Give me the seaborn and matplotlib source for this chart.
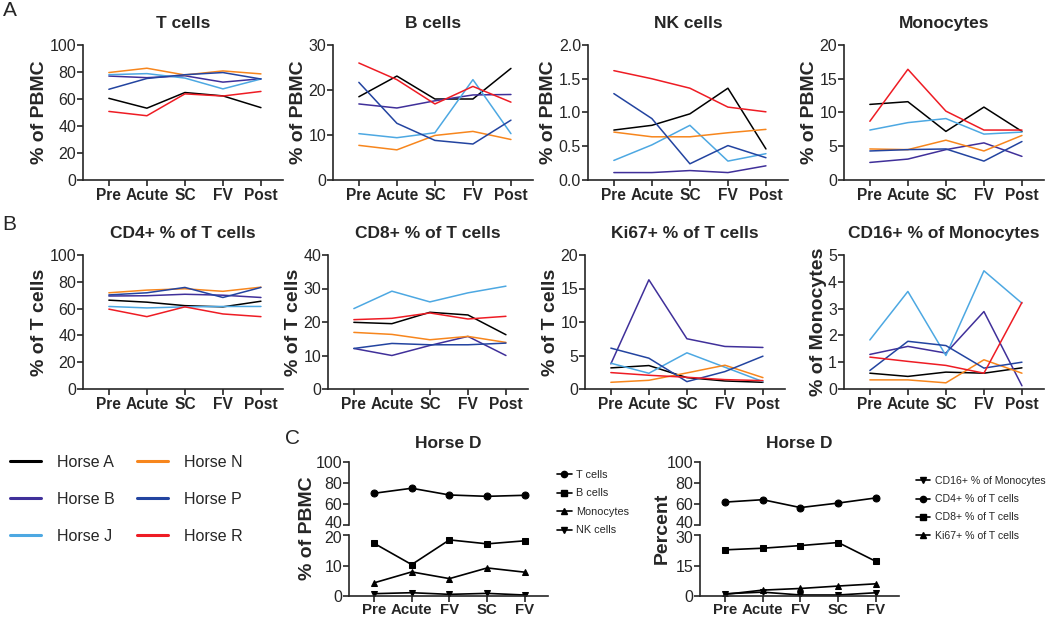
import seaborn as sns
import pandas as pd
import numpy as np
import matplotlib.pyplot as plt
from matplotlib.lines import Line2D
from matplotlib.ticker import FormatStrFormatter
from matplotlib.transforms import ScaledTranslation

W, H = 1050, 619

timepoints = ['Pre', 'Acute', 'SC', 'FV', 'Post']
horses = ['Horse A', 'Horse B', 'Horse J', 'Horse N', 'Horse P', 'Horse R']
horse_colors = ['#000000', '#40309a', '#4da8e2', '#f7861d', '#2344a0', '#ee1c24']

# panel A, % of PBMC
t_cells = {'Horse A': [60.5, 53.2, 64.8, 62.3, 53.6], 'Horse B': [77.0, 75.8, 77.2, 72.5, 75.0],
           'Horse J': [78.0, 78.8, 75.5, 67.5, 74.8], 'Horse N': [79.6, 82.8, 77.8, 80.8, 78.6],
           'Horse P': [67.2, 75.2, 78.0, 79.6, 74.8], 'Horse R': [50.8, 47.6, 63.8, 62.2, 65.6]}
b_cells = {'Horse A': [18.5, 23.1, 18.0, 18.0, 24.8], 'Horse B': [16.9, 16.0, 17.6, 18.9, 19.0],
           'Horse J': [10.3, 9.4, 10.5, 22.3, 10.3], 'Horse N': [7.7, 6.7, 9.9, 10.8, 9.0],
           'Horse P': [21.7, 12.6, 8.8, 8.0, 13.3], 'Horse R': [26.0, 22.3, 16.9, 20.8, 17.3]}
nk_cells = {'Horse A': [0.74, 0.81, 0.98, 1.36, 0.46], 'Horse B': [0.11, 0.11, 0.14, 0.11, 0.21],
            'Horse J': [0.29, 0.52, 0.81, 0.28, 0.39], 'Horse N': [0.71, 0.64, 0.64, 0.70, 0.75],
            'Horse P': [1.28, 0.91, 0.24, 0.51, 0.33], 'Horse R': [1.62, 1.50, 1.36, 1.08, 1.01]}
monocytes = {'Horse A': [11.2, 11.6, 7.2, 10.8, 7.2], 'Horse B': [2.6, 3.1, 4.5, 5.5, 3.5],
             'Horse J': [7.4, 8.5, 9.1, 6.8, 7.1], 'Horse N': [4.6, 4.5, 5.9, 4.3, 6.6],
             'Horse P': [4.3, 4.5, 4.6, 2.8, 5.7], 'Horse R': [8.7, 16.4, 10.2, 7.4, 7.4]}

# panel B
cd4 = {'Horse A': [66.3, 64.8, 62.2, 61.3, 65.5], 'Horse B': [69.4, 69.6, 70.7, 70.0, 68.3],
       'Horse J': [61.6, 60.5, 61.3, 61.6, 61.6], 'Horse N': [71.8, 73.8, 74.8, 72.9, 76.0],
       'Horse P': [70.2, 71.8, 75.8, 68.3, 75.8], 'Horse R': [59.6, 54.0, 61.3, 56.0, 54.0]}
cd8 = {'Horse A': [19.9, 19.5, 22.9, 22.1, 16.2], 'Horse B': [12.1, 10.0, 13.0, 15.7, 10.0],
       'Horse J': [24.0, 29.2, 26.0, 28.7, 30.7], 'Horse N': [16.9, 16.3, 14.7, 15.7, 13.9],
       'Horse P': [12.1, 13.6, 13.2, 13.2, 13.7], 'Horse R': [20.7, 21.1, 22.7, 20.9, 21.7]}
ki67 = {'Horse A': [3.15, 3.5, 1.7, 1.2, 1.0], 'Horse B': [3.75, 16.3, 7.5, 6.35, 6.2],
        'Horse J': [3.85, 2.35, 5.4, 3.25, 1.1], 'Horse N': [1.0, 1.3, 2.4, 3.55, 1.7],
        'Horse P': [6.1, 4.6, 1.1, 2.6, 4.9], 'Horse R': [2.45, 2.05, 1.75, 1.4, 1.25]}
cd16 = {'Horse A': [0.59, 0.47, 0.63, 0.59, 0.79], 'Horse B': [1.29, 1.59, 1.34, 2.89, 0.12],
        'Horse J': [1.83, 3.64, 1.25, 4.41, 3.2], 'Horse N': [0.34, 0.34, 0.23, 1.09, 0.59],
        'Horse P': [0.69, 1.78, 1.62, 0.78, 1.0], 'Horse R': [1.19, 1.03, 0.88, 0.59, 3.23]}

# panel C, Horse D
horse_d_times = ['Pre', 'Acute', 'FV', 'SC', 'FV']
d_t_cells = [70.2, 75.0, 68.6, 67.3, 68.3]
d_b_cells = [17.3, 10.3, 18.4, 17.1, 18.1]
d_monocytes = [4.3, 7.9, 5.7, 9.2, 7.8]
d_nk_cells = [0.76, 1.08, 0.54, 0.86, 0.32]
d_cd16 = [1.1, 1.9, 0.5, 0.5, 1.6]
d_cd4 = [61.8, 64.1, 56.6, 60.9, 65.8]
d_cd8 = [22.7, 23.5, 24.8, 26.3, 17.0]
d_ki67 = [0.8, 2.9, 3.7, 4.9, 6.0]

sns.set_style('ticks')
plt.rcParams['font.family'] = ['Liberation Sans', 'DejaVu Sans']
plt.rcParams['axes.linewidth'] = 1.2

fig = plt.figure(figsize=(W / 100, H / 100), dpi=100)
palette = dict(zip(horses, horse_colors))


def add_ax(left, top, right, bottom):
    return fig.add_axes([left / W, 1 - bottom / H, (right - left) / W, (bottom - top) / H])


def style_ax(ax, xlabels, xlim, xfs=11.2, xpad=2):
    sns.despine(ax=ax)
    ax.set_xticks(np.arange(len(xlabels)))
    ax.set_xticklabels(xlabels, fontweight='bold', fontsize=xfs)
    ax.set_xlim(*xlim)
    ax.tick_params(axis='y', labelsize=11.5, length=4, width=1.2, pad=1)
    ax.tick_params(axis='x', length=4, width=1.2, pad=xpad)
    ax.set_xlabel('')


def long_df(values):
    rows = []
    for h in horses:
        for i, v in enumerate(values[h]):
            rows.append({'horse': h, 'pos': i, 'value': v})
    return pd.DataFrame(rows)


grid = [
    (45, 180, [('T cells', t_cells, 100, 20, '%d', '% of PBMC', 83),
               ('B cells', b_cells, 30, 10, '%d', '% of PBMC', 333),
               ('NK cells', nk_cells, 2.0, 0.5, '%.1f', '% of PBMC', 588),
               ('Monocytes', monocytes, 20, 5, '%d', '% of PBMC', 844)]),
    (255, 389, [('CD4+ % of T cells', cd4, 100, 20, '%d', '% of T cells', 83),
                ('CD8+ % of T cells', cd8, 40, 10, '%d', '% of T cells', 328),
                ('Ki67+ % of T cells', ki67, 20, 5, '%d', '% of T cells', 585),
                ('CD16+ % of Monocytes', cd16, 5, 1, '%d', '% of Monocytes', 844)]),
]

for top, bottom, row in grid:
    for title, values, ymax, step, fmt, ylabel, left in row:
        ax = add_ax(left, top, left + 200, bottom)
        sns.lineplot(data=long_df(values), x='pos', y='value', hue='horse', palette=palette,
                     lw=1.1, legend=False, ax=ax)
        style_ax(ax, timepoints, (-0.68, 4.58))
        ax.set_ylim(0, ymax)
        ax.set_yticks(np.arange(0, ymax + step / 2, step))
        ax.yaxis.set_major_formatter(FormatStrFormatter(fmt))
        ax.set_ylabel(ylabel, fontweight='bold', fontsize=14, labelpad=1)
        ax.set_title(title, fontweight='bold', fontsize=12.5, pad=12)

fig.text(3 / W, 1 - 11 / H, 'A', fontsize=15, va='center')
fig.text(2 / W, 1 - 225 / H, 'B', fontsize=15, va='center')
fig.text(285 / W, 1 - 438 / H, 'C', fontsize=15, va='center')

# horse legend
handles = [Line2D([], [], color=c, lw=2.2) for c in horse_colors]
fig.legend(handles, horses, ncol=2, loc='upper left', bbox_to_anchor=(10 / W, 1 - 455 / H),
           frameon=False, fontsize=11.5, handlelength=1.95, handletextpad=1.0,
           columnspacing=1.4, labelspacing=1.38, borderpad=0, borderaxespad=0)


def broken_panel(left, series, low_max, low_step, ylabel, ylabel_x, legend_x, legend_y, lfs):
    upper = add_ax(left, 462, left + 199, 525)
    lower = add_ax(left, 535, left + 199, 596)
    pos = np.arange(len(horse_d_times))
    for label, vals, marker in series:
        for ax in (upper, lower):
            sns.lineplot(x=pos, y=vals, color='black', marker=marker, markersize=5,
                         markeredgecolor='black', lw=1.2, legend=False, ax=ax)
    style_ax(lower, horse_d_times, (-0.66, 4.61), xfs=10.8, xpad=1)
    lower.set_ylim(0, low_max)
    lower.set_yticks([0, low_step, 2 * low_step])
    style_ax(upper, horse_d_times, (-0.66, 4.61))
    upper.spines['bottom'].set_visible(False)
    upper.tick_params(axis='x', bottom=False, labelbottom=False)
    upper.set_ylim(40, 100)
    upper.set_yticks([40, 60, 80, 100])
    upper.set_ylabel('')
    lower.set_ylabel('')
    # nudge the two labels at the break apart
    lab40 = upper.get_yticklabels()[0]
    lab40.set_transform(lab40.get_transform() + ScaledTranslation(0, 0.025, fig.dpi_scale_trans))
    labtop = lower.get_yticklabels()[-1]
    labtop.set_transform(labtop.get_transform() + ScaledTranslation(0, -0.02, fig.dpi_scale_trans))
    upper.set_title('Horse D', fontweight='bold', fontsize=12.5, pad=10)
    fig.text(ylabel_x / W, 1 - 528 / H, ylabel, rotation=90, fontweight='bold', fontsize=14,
             ha='center', va='center')
    hs = [Line2D([], [], color='black', marker=m, markersize=4.5, lw=1.2) for _, _, m in series]
    fig.legend(hs, [s[0] for s in series], loc='upper left',
               bbox_to_anchor=(legend_x / W, 1 - legend_y / H), frameon=False, fontsize=lfs,
               handlelength=1.35, handletextpad=0.45, labelspacing=0.78, borderpad=0,
               borderaxespad=0)


broken_panel(349, [('T cells', d_t_cells, 'o'), ('B cells', d_b_cells, 's'),
                   ('Monocytes', d_monocytes, '^'), ('NK cells', d_nk_cells, 'v')],
             20, 10, '% of PBMC', 307, 557, 470, 7.8)
broken_panel(700, [('CD16+ % of Monocytes', d_cd16, 'v'), ('CD4+ % of T cells', d_cd4, 'o'),
                   ('CD8+ % of T cells', d_cd8, 's'), ('Ki67+ % of T cells', d_ki67, '^')],
             30, 15, 'Percent', 662, 916, 476, 7.6)

plt.savefig('out.png', dpi=100)
